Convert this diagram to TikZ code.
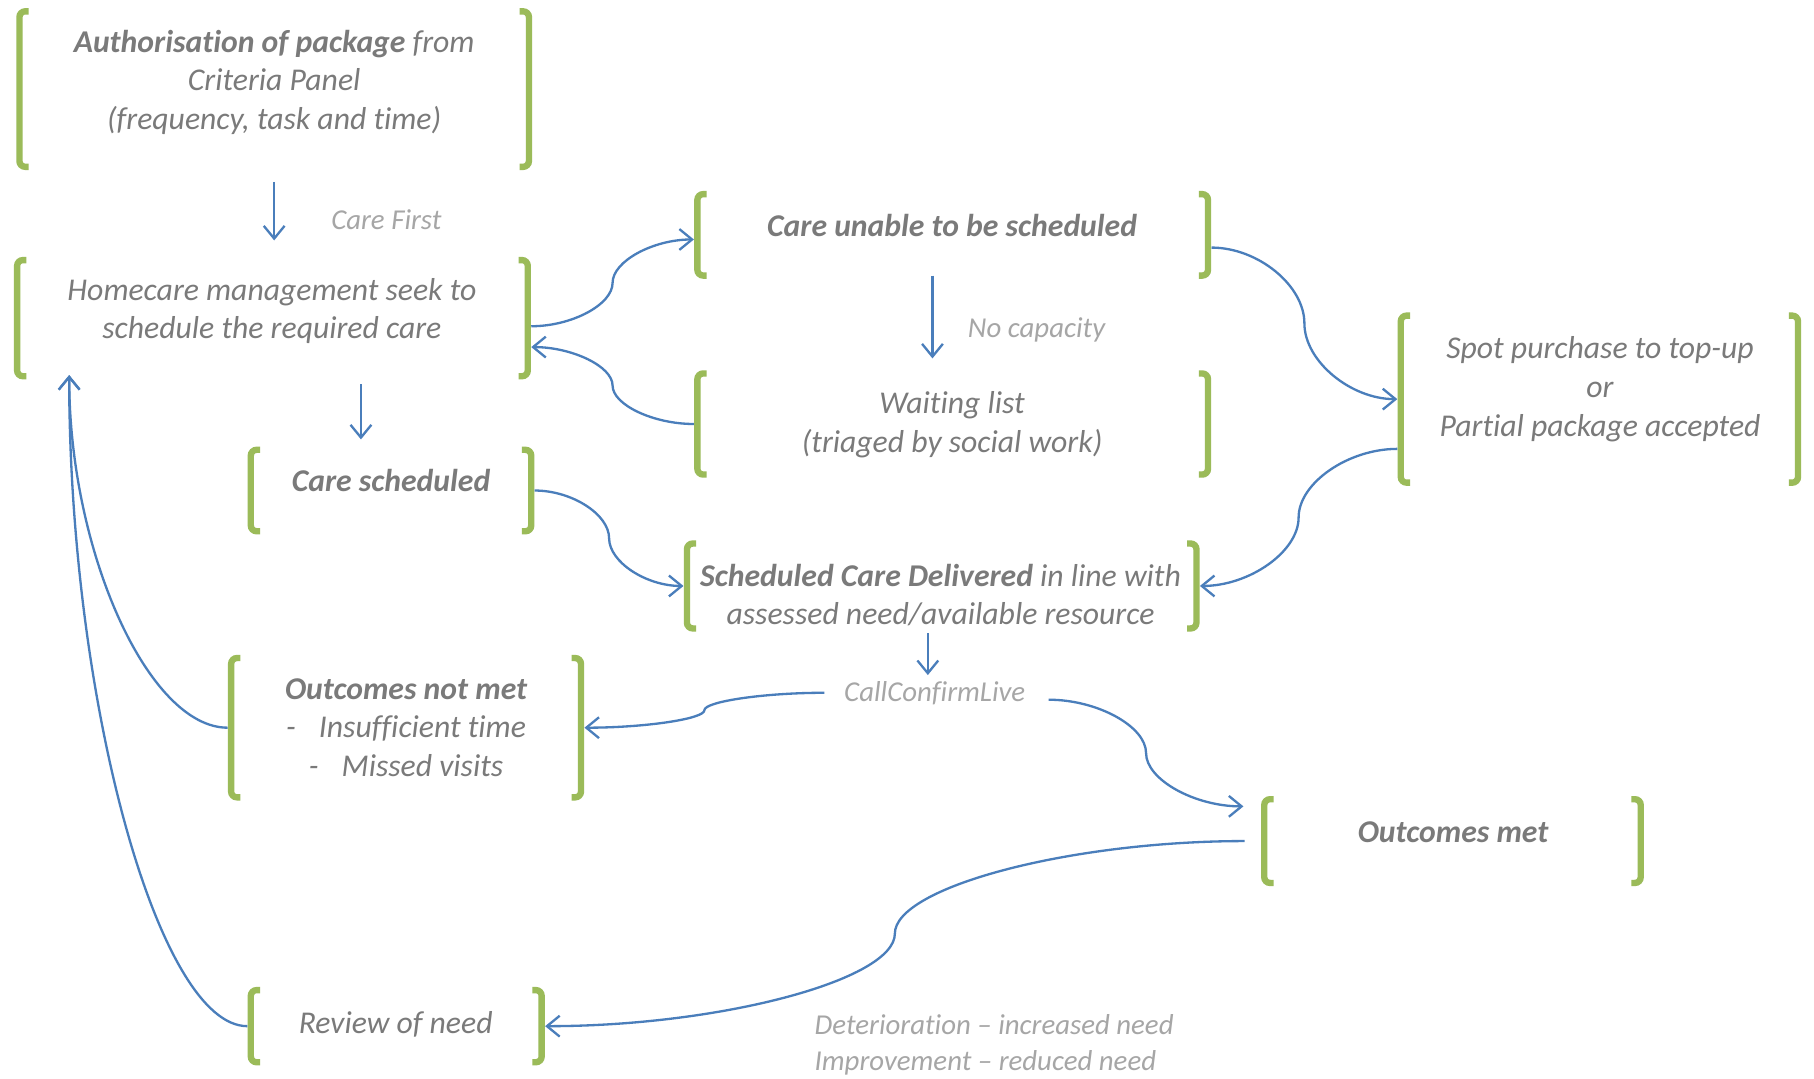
\documentclass[tikz,border=0pt]{standalone}
\usepackage{fontspec}
\setmainfont{Carlito}[RawFeature={-liga}]
\usetikzlibrary{arrows.meta,calc}
\definecolor{brkgreen}{HTML}{9BBB59}
\definecolor{arrblue}{HTML}{4A7EBB}
\definecolor{txtgray}{HTML}{7A7A7A}
\definecolor{lblgray}{HTML}{A6A6A6}
\tikzset{
  box/.style={draw=none, inner sep=0pt},
  brkt/.style={draw=brkgreen, line width=5.5pt, rounded corners=5pt},
  arr/.style={draw=arrblue, line width=2pt, -{Straight Barb[length=11pt,width=18pt,line width=2pt]}},
  txt/.style={font=\fontsize{27.4}{33.4}\selectfont\itshape, text=txtgray, align=center, inner sep=0pt, anchor=base},
  lbl/.style={font=\fontsize{24.9}{30.4}\selectfont\itshape, text=lblgray, inner sep=0pt, anchor=base},
}
\newcommand\brk[1]{%
  \draw[brkt] ([xshift=8pt]#1.north west) -- (#1.north west) -- (#1.south west) -- ([xshift=8pt]#1.south west);
  \draw[brkt] ([xshift=-8pt]#1.north east) -- (#1.north east) -- (#1.south east) -- ([xshift=-8pt]#1.south east);}
\newcommand\sconn[2]{\draw[arr] let \p1=(#1),\p2=(#2) in (\p1)
  .. controls ({0.75*\x1+0.25*\x2},\y1) and ({0.5*\x1+0.5*\x2},{0.75*\y1+0.25*\y2}) .. ({0.5*\x1+0.5*\x2},{0.5*\y1+0.5*\y2})
  .. controls ({0.5*\x1+0.5*\x2},{0.25*\y1+0.75*\y2}) and ({0.25*\x1+0.75*\x2},\y2) .. (\p2);}
\newcommand\lconn[2]{\draw[arr] let \p1=(#1),\p2=(#2) in (\p1)
  .. controls ({0.5*\x1+0.5*\x2},\y1) and (\x2,{0.5*\y1+0.5*\y2}) .. (\p2);}
\begin{document}
\begin{tikzpicture}[x=1pt,y=1pt]
\useasboundingbox[fill=white] (0,0) rectangle (1568,-932);
% boxes
\node[box, minimum width=440pt, minimum height=134pt] (b1) at (237,-77) {};
\node[box, minimum width=441pt, minimum height=100pt] (b2) at (235.5,-275) {};
\node[box, minimum width=441pt, minimum height=70pt] (b3) at (823.5,-203) {};
\node[box, minimum width=441pt, minimum height=87pt] (b4) at (823.5,-366.5) {};
\node[box, minimum width=343pt, minimum height=144pt] (b5) at (1382.5,-345) {};
\node[box, minimum width=242pt, minimum height=70pt] (b6) at (338,-424) {};
\node[box, minimum width=440pt, minimum height=73pt] (b7) at (814,-506.5) {};
\node[box, minimum width=302pt, minimum height=120pt] (b8) at (351,-629) {};
\node[box, minimum width=325pt, minimum height=72pt] (b9) at (1255.5,-727) {};
\node[box, minimum width=251pt, minimum height=62pt] (b10) at (342.5,-887) {};
\foreach \b in {b1,b2,b3,b4,b5,b6,b7,b8,b9,b10} {\brk{\b}}
% texts (multi-line nodes: base = last line)
\node[txt] (t1) at (237,-112) {\textbf{Authorisation of package} from\\Criteria Panel\\(frequency, task and time)};
\node[txt] (t2) at (235,-293) {Homecare management seek to\\schedule the required care};
\node[txt] (t3) at (823,-204) {\textbf{Care unable to be scheduled}};
\node[txt] (t4) at (823,-391) {Waiting list\\(triaged by social work)};
\node[txt] (t5) at (1383,-377) {Spot purchase to top-up\\or\\Partial package accepted};
\node[txt] (t6) at (338,-425) {\textbf{Care scheduled}};
\node[txt] (t7) at (813,-540) {\textbf{Scheduled Care Delivered} in line with\\assessed need/available resource};
\node[txt] (t8) at (351,-671) {\textbf{Outcomes not met}\\-\hspace{20pt}Insufficient time\\-\hspace{20pt}Missed visits};
\node[txt] (t9) at (1256,-728) {\textbf{Outcomes met}};
\node[txt] (t10) at (342,-893) {Review of need};
% labels
\node[lbl] (l1) at (334,-198) {Care First};
\node[lbl] (l2) at (896,-292) {No capacity};
\node[lbl] (cc) at (808,-606) {CallConfirmLive};
\node[lbl, anchor=base west, align=left] (l4) at (704,-925) {Deterioration – increased need\\Improvement – reduced need};
% straight arrows
\draw[arr, shorten <=13pt, shorten >=17pt] (b1.south) -- (b1.south |- b2.north);
\draw[arr, shorten <=7pt, shorten >=9pt] ([xshift=76.5pt]b2.south) -- ([xshift=76.5pt]b2.south |- b6.north);
\draw[arr, shorten >=13pt] ([xshift=-17.5pt]b3.south) -- ([xshift=-17.5pt]b3.south |- b4.north);
\draw[arr, shorten <=4pt, shorten >=5pt] ([xshift=-12pt]b7.south) -- ([xshift=-12pt]b7.south |- cc.north);
% curved connectors
\sconn{[xshift=3pt,yshift=-7pt]b2.east}{[xshift=-3pt,yshift=-4pt]b3.west}
\sconn{[xshift=-3pt]b4.west}{[xshift=3pt,yshift=-25pt]b2.east}
\sconn{[xshift=3pt]b6.east}{[xshift=-3pt]b7.west}
\sconn{[xshift=3pt,yshift=-11pt]b3.east}{[xshift=-3pt]b5.west}
\sconn{[xshift=-3pt,yshift=-43pt]b5.west}{[xshift=3pt]b7.east}
\sconn{[xshift=-17pt]cc.west}{[xshift=3pt]b8.east}
\sconn{[xshift=20pt,yshift=-6pt]cc.east}{[xshift=-18pt,yshift=30pt]b9.west}
\sconn{[xshift=-17pt]b9.west}{[xshift=3pt]b10.east}
\lconn{[xshift=-3pt]b8.west}{[xshift=45pt,yshift=1pt]b2.south west}
\lconn{[xshift=-3pt]b10.west}{[xshift=45pt,yshift=1pt]b2.south west}
\end{tikzpicture}
\end{document}
